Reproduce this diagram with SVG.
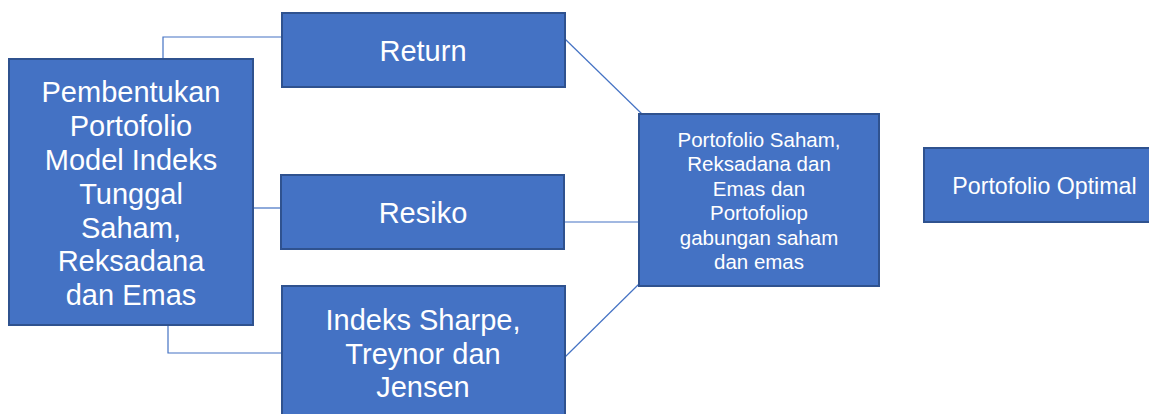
<svg xmlns="http://www.w3.org/2000/svg" width="1149" height="414" viewBox="0 0 1149 414">
<style>
.box{fill:#4472C4;stroke:#2F528F;stroke-width:2}
.t{fill:#fff;font-family:"Liberation Sans",Arial,sans-serif;text-anchor:middle}
.conn{fill:none;stroke:#4472C4;stroke-width:1.2}
</style>
<rect width="1149" height="414" fill="#fff"/>
<g id="connectors" class="conn">
<polyline points="163,59 163,37 282,37"/>
<line x1="253" y1="208" x2="282" y2="208"/>
<polyline points="168,325 168,353 282,353"/>
<line x1="565" y1="39" x2="642" y2="114"/>
<line x1="565" y1="222" x2="639" y2="222"/>
<line x1="565" y1="357" x2="640" y2="283"/>
</g>
<g id="node-pembentukan">
<rect class="box" x="9" y="59" width="244" height="266"/>
<text class="t" font-size="29" x="131"><tspan x="131" y="102">Pembentukan</tspan><tspan x="131" y="136">Portofolio</tspan><tspan x="131" y="169.5">Model Indeks</tspan><tspan x="131" y="203.5">Tunggal</tspan><tspan x="131" y="237.5">Saham,</tspan><tspan x="131" y="271">Reksadana</tspan><tspan x="131" y="305">dan Emas</tspan></text>
</g>
<g id="node-return">
<rect class="box" x="282" y="13" width="283" height="74"/>
<text class="t" font-size="29" x="423" y="61">Return</text>
</g>
<g id="node-resiko">
<rect class="box" x="281" y="175" width="283" height="74"/>
<text class="t" font-size="29" x="423" y="223">Resiko</text>
</g>
<g id="node-indeks">
<rect class="box" x="282" y="286" width="283" height="140"/>
<text class="t" font-size="29"><tspan x="423" y="330">Indeks Sharpe,</tspan><tspan x="423" y="364">Treynor dan</tspan><tspan x="423" y="397">Jensen</tspan></text>
</g>
<g id="node-portofolio">
<rect class="box" x="639" y="114" width="240" height="172"/>
<text class="t" font-size="20.5"><tspan x="759" y="146.5">Portofolio Saham,</tspan><tspan x="759" y="171">Reksadana dan</tspan><tspan x="759" y="195.5">Emas dan</tspan><tspan x="759" y="220">Portofoliop</tspan><tspan x="759" y="244.5">gabungan saham</tspan><tspan x="759" y="269">dan emas</tspan></text>
</g>
<g id="node-optimal">
<rect class="box" x="924" y="148" width="242" height="74"/>
<text class="t" font-size="23.2" x="1044.5" y="194">Portofolio Optimal</text>
</g>
</svg>
